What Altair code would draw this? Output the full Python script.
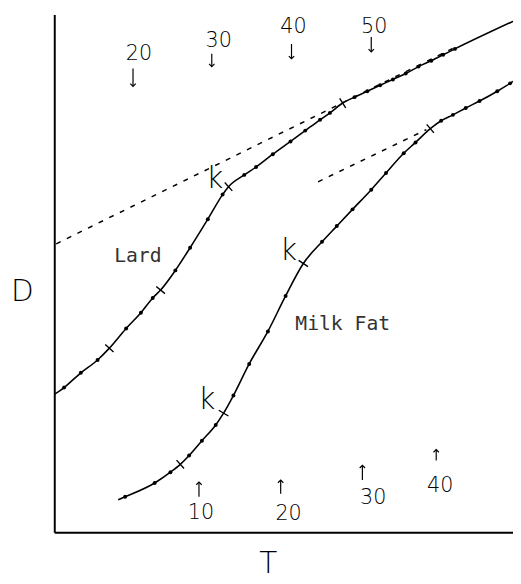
import math
import altair as alt
import pandas as pd

# ---- data (arbitrary units: T to the right, D upward) ----
lard_T = [0, 10, 27, 44, 56, 73, 88, 100, 108, 123, 138, 156, 171, 177, 193, 205,
          222, 240, 255, 270, 280, 293, 305, 318, 331, 344, 357, 370, 383, 395, 407, 466]
lard_D = [140, 147, 162, 175, 187, 207, 223, 238, 246, 266, 289, 318, 343, 351, 363, 371,
          384, 397, 408, 419, 426, 436, 442, 448, 454, 460, 466, 473, 479, 485, 491, 519]
lard_kind = ["-", "o", "o", "o", "x", "o", "o", "o", "x", "o", "o", "o", "o", "x", "o", "o",
             "o", "o", "o", "o", "o", "x", "o", "o", "o", "o", "o", "o", "o", "o", "o", "-"]

milk_T = [65, 72, 102, 118, 128, 137, 150, 164, 172, 182, 198, 217, 235, 253, 272, 287,
          303, 322, 337, 355, 367, 382, 393, 405, 418, 432, 450, 463, 466]
milk_D = [33, 36, 50, 61, 69, 78, 93, 109, 121, 139, 171, 204, 240, 273, 295, 311,
          328, 348, 365, 385, 396, 410, 418, 424, 431, 438, 448, 456, 458]
milk_kind = ["-", "o", "o", "o", "x", "o", "o", "o", "x", "o", "o", "o", "o", "x", "o", "o",
             "o", "o", "o", "o", "o", "x", "o", "o", "o", "o", "o", "o", "-"]

# dashed extrapolation lines (start, end)
tan_series = ["Lard", "Lard", "Milk Fat", "Milk Fat"]
tan_T = [2, 408, 268, 378]
tan_D = [293, 493, 356, 409]

# temperature markers above (Lard) and below (Milk Fat)
top_labels = ["20", "30", "40", "50"]
top_text_T = [86, 167, 243, 325]
top_text_D = [486, 499, 513, 513]
top_arrow_T = [80, 160, 241, 322]
top_arrow_tail = [471, 486, 496, 503]
top_arrow_tip = [453, 473, 481, 488]

bot_labels = ["10", "20", "30", "40"]
bot_text_T = [149, 238, 324, 392]
bot_text_D = [19, 18, 35, 47]
bot_arrow_T = [147, 230, 313, 388]
bot_arrow_tail = [36, 39, 53, 73]
bot_arrow_tip = [51, 53, 68, 84]

name_labels = ["Lard", "Milk Fat"]
name_T = [85, 293]
name_D = [281, 211]

k_T = [163, 238, 155]
k_D = [359, 286, 134]

# ---- build tables ----
rows = []
for series, Ts, Ds, ks in [("Lard", lard_T, lard_D, lard_kind), ("Milk Fat", milk_T, milk_D, milk_kind)]:
    for i, (t, d, k) in enumerate(zip(Ts, Ds, ks)):
        ang = 0.0
        if k == "x":
            dT = Ts[i + 1] - Ts[i - 1]
            dD = Ds[i + 1] - Ds[i - 1]
            ang = (math.degrees(math.atan2(-dD, dT)) + 90) % 360
        rows.append({"series": series, "i": i, "T": t, "D": d, "kind": k, "ang": ang})
curves = pd.DataFrame(rows)

tan = pd.DataFrame({"series": tan_series, "T": tan_T, "D": tan_D})

arrows = pd.DataFrame({
    "T": top_arrow_T + bot_arrow_T,
    "D": top_arrow_tail + bot_arrow_tail,
    "D2": top_arrow_tip + bot_arrow_tip,
    "dir": ["down"] * 4 + ["up"] * 4,
})
nums = pd.DataFrame({
    "T": top_text_T + bot_text_T,
    "D": top_text_D + bot_text_D,
    "label": top_labels + bot_labels,
})
names = pd.DataFrame({"T": name_T, "D": name_D, "label": name_labels})
ks = pd.DataFrame({"T": k_T, "D": k_D, "label": ["k"] * 3})

FONT = "DejaVu Sans"
XS = alt.Scale(domain=[0, 466], nice=False, zero=False)
YS = alt.Scale(domain=[0, 526], nice=False, zero=False)
X = alt.X("T:Q", scale=XS,
          axis=alt.Axis(title="T", ticks=False, labels=False, grid=False,
                        domainColor="black", domainWidth=2,
                        titleFont=FONT, titleFontSize=30, titleFontWeight=200,
                        titleColor="black", titleAngle=0,
                        titleX=217, titleY=41, titleAlign="center", titleBaseline="alphabetic"))
Y = alt.Y("D:Q", scale=YS,
          axis=alt.Axis(title="D", ticks=False, labels=False, grid=False,
                        domainColor="black", domainWidth=2,
                        titleFont=FONT, titleFontSize=30, titleFontWeight=200,
                        titleColor="black", titleAngle=0,
                        titleX=-33, titleY=291, titleAlign="center", titleBaseline="alphabetic"))

lines = alt.Chart(curves).mark_line(color="black", strokeWidth=1.6, interpolate="monotone", clip=True).encode(
    x=X, y=Y, detail="series:N", order="i:Q")
dots = alt.Chart(curves).transform_filter(alt.datum.kind == "o").mark_circle(
    color="black", size=16, opacity=1).encode(x=X, y=Y)
crosses = alt.Chart(curves).transform_filter(alt.datum.kind == "x").mark_point(
    shape="M-1,0L1,0", size=130, stroke="black", strokeWidth=1.4, filled=False, opacity=1).encode(
    x=X, y=Y, angle=alt.Angle("ang:Q", scale=None))
dashes = alt.Chart(tan).mark_line(color="black", strokeWidth=1.5, strokeDash=[5, 7]).encode(
    x=X, y=Y, detail="series:N")

shafts = alt.Chart(arrows).mark_rule(color="black", strokeWidth=1.2).encode(
    x=X, y=Y, y2="D2:Q")
heads_down = alt.Chart(arrows).transform_filter(alt.datum.dir == "down").mark_point(
    shape="M-1,-1L0,0L1,-1", size=30, stroke="black", strokeWidth=1.2, filled=False, opacity=1).encode(
    x=X, y=alt.Y("D2:Q", scale=YS))
heads_up = alt.Chart(arrows).transform_filter(alt.datum.dir == "up").mark_point(
    shape="M-1,1L0,0L1,1", size=30, stroke="black", strokeWidth=1.2, filled=False, opacity=1).encode(
    x=X, y=alt.Y("D2:Q", scale=YS))

num_text = alt.Chart(nums).mark_text(font=FONT, fontSize=21, fontWeight=200, color="black",
                                     baseline="middle", align="center").encode(x=X, y=Y, text="label:N")
name_text = alt.Chart(names).mark_text(font="DejaVu Sans Mono", fontSize=20, color="#333333",
                                       baseline="middle", align="center").encode(x=X, y=Y, text="label:N")
k_text = alt.Chart(ks).mark_text(font=FONT, fontSize=30, fontWeight=200, color="black",
                                 baseline="middle", align="center").encode(x=X, y=Y, text="label:N")

chart = alt.layer(dashes, lines, dots, crosses, shafts, heads_down, heads_up,
                  num_text, name_text, k_text).properties(
    width=466, height=526,
    padding={"left": 47, "top": 2, "right": 0, "bottom": 46},
    autosize=alt.AutoSizeParams(type="none"),
    background="white",
).configure_view(stroke=None)

chart.save("out.html", embed_options={"renderer": "svg", "actions": False})
